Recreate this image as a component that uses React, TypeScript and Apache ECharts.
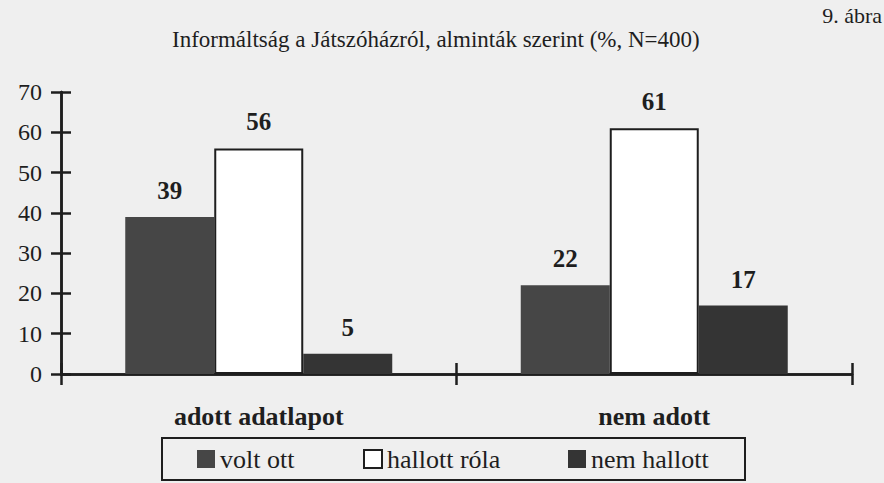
import React, { useEffect, useRef } from "react";
import * as echarts from "echarts";

const categories = ["adott adatlapot", "nem adott"];
const seriesNames = ["volt ott", "hallott róla", "nem hallott"];
const voltOtt = [39, 22];
const hallottRola = [56, 61];
const nemHallott = [5, 17];
const yMin = 0;
const yMax = 70;
const yInterval = 10;

const FONT = "'Liberation Serif', 'Times New Roman', serif";
const INK = "#1e1e1e";

export default function App() {
  const ref = useRef<HTMLDivElement>(null);
  useEffect(() => {
    document.body.style.margin = "0";
    const chart = echarts.init(ref.current!, null, { renderer: "svg" });
    const labelStyle = {
      show: true,
      position: "top" as const,
      distance: 14,
      fontFamily: FONT,
      fontSize: 25,
      fontWeight: "bold" as const,
      color: INK,
    };
    const legendBase = {
      top: 446,
      itemWidth: 18,
      itemHeight: 18,
      itemGap: 0,
      padding: 0,
      icon: "rect",
      textStyle: { fontFamily: FONT, fontSize: 26, color: INK },
    };
    const yBase = {
      type: "value" as const,
      min: yMin,
      max: yMax,
      interval: yInterval,
      splitLine: { show: false },
      axisLine: { show: true, lineStyle: { color: INK, width: 2.5 } },
    };
    const xBase = {
      type: "category" as const,
      data: categories,
      boundaryGap: true,
      position: "bottom" as const,
      axisLine: { show: true, lineStyle: { color: INK, width: 2.5 } },
    };
    chart.setOption({
      animation: false,
      backgroundColor: "#efefef",
      title: [
        {
          text: "Informáltság a Játszóházról, alminták szerint (%, N=400)",
          left: 172,
          top: 28,
          padding: 0,
          textStyle: { fontFamily: FONT, fontSize: 23, fontWeight: "normal", color: INK },
        },
        {
          text: "9. ábra",
          right: 2,
          top: 4,
          padding: 0,
          textStyle: { fontFamily: FONT, fontSize: 22, fontWeight: "normal", color: INK },
        },
      ],
      legend: [
        { ...legendBase, left: 197, data: [seriesNames[0]] },
        { ...legendBase, left: 363, data: [seriesNames[1]] },
        { ...legendBase, left: 568, data: [seriesNames[2]] },
      ],
      grid: { left: 61, right: 32, top: 92, bottom: 109 },
      xAxis: [
        {
          ...xBase,
          axisTick: { show: true, inside: false, length: 11, lineStyle: { color: INK, width: 2.5 } },
          axisLabel: {
            show: true,
            margin: 29,
            fontFamily: FONT,
            fontSize: 26,
            fontWeight: "bold",
            color: INK,
          },
        },
        {
          ...xBase,
          axisTick: { show: true, inside: true, length: 11, lineStyle: { color: INK, width: 2.5 } },
          axisLabel: { show: false },
        },
      ],
      yAxis: [
        {
          ...yBase,
          axisTick: { show: true, inside: false, length: 10, lineStyle: { color: INK, width: 2.5 } },
          axisLabel: {
            show: true,
            margin: 19,
            fontFamily: FONT,
            fontSize: 24,
            color: INK,
          },
        },
        {
          ...yBase,
          position: "left",
          axisTick: { show: true, inside: true, length: 10, lineStyle: { color: INK, width: 2.5 } },
          axisLabel: { show: false },
        },
      ],
      series: [
        {
          name: seriesNames[0],
          type: "bar",
          data: voltOtt,
          barWidth: 89,
          barGap: "0%",
          itemStyle: { color: "#464646" },
          label: labelStyle,
        },
        {
          name: seriesNames[1],
          type: "bar",
          data: hallottRola,
          barWidth: 89,
          barGap: "0%",
          itemStyle: { color: "#ffffff", borderColor: INK, borderWidth: 2 },
          label: labelStyle,
        },
        {
          name: seriesNames[2],
          type: "bar",
          data: nemHallott,
          barWidth: 89,
          barGap: "0%",
          itemStyle: { color: "#343434" },
          label: labelStyle,
        },
      ],
      graphic: [
        {
          type: "rect",
          shape: { x: 162, y: 438, width: 583, height: 42 },
          style: { fill: "none", stroke: INK, lineWidth: 2 },
          silent: true,
        },
      ],
    });
    return () => chart.dispose();
  }, []);
  return (
    <div
      ref={ref}
      style={{ position: "absolute", left: 0, top: 0, width: 884, height: 483 }}
    />
  );
}
